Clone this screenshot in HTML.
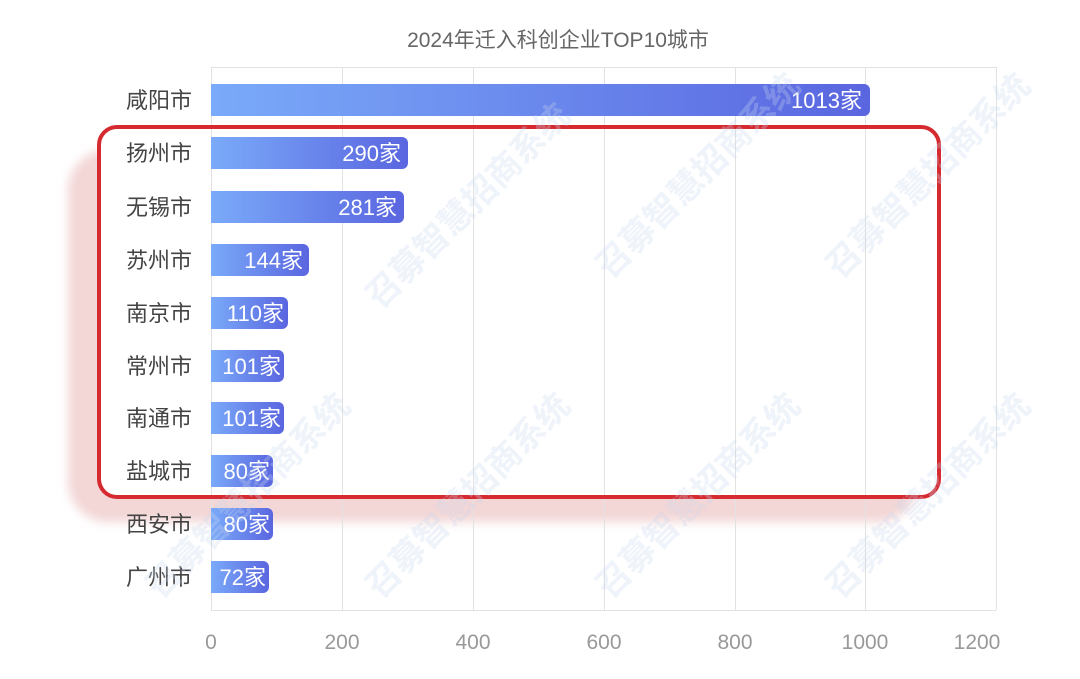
<!DOCTYPE html>
<html><head><meta charset="utf-8"><style>
body{margin:0;background:#fff;width:1080px;height:674px;overflow:hidden;font-family:"Liberation Sans","Noto Sans CJK SC",sans-serif;}
</style></head><body>
<svg width="1080" height="674" xmlns="http://www.w3.org/2000/svg" font-family="Liberation Sans, Noto Sans CJK SC, sans-serif">
<defs>
<linearGradient id="g" x1="0" x2="1" y1="0" y2="0"><stop offset="0" stop-color="#7aaaf9"/><stop offset="1" stop-color="#5a66e0"/></linearGradient>
<filter id="bl"><feGaussianBlur stdDeviation="5"/></filter>
</defs>
<rect x="68" y="150" width="850" height="372" rx="40" fill="#f3d6d6" filter="url(#bl)"/>
<rect x="101" y="129" width="836" height="366" rx="16" fill="#fff"/>
<text x="558" y="47" font-size="21" fill="#666" text-anchor="middle">2024年迁入科创企业TOP10城市</text>
<g stroke="#e2e2e2" stroke-width="1">
<line x1="211.5" y1="67" x2="211.5" y2="610"/><line x1="342.5" y1="67" x2="342.5" y2="610"/><line x1="473.5" y1="67" x2="473.5" y2="610"/><line x1="604.5" y1="67" x2="604.5" y2="610"/><line x1="735.5" y1="67" x2="735.5" y2="610"/><line x1="865.5" y1="67" x2="865.5" y2="610"/><line x1="996.5" y1="67" x2="996.5" y2="610"/>
<line x1="211" y1="67.5" x2="996" y2="67.5"/><line x1="211" y1="610.5" x2="996" y2="610.5"/>
</g>
<g font-size="21" fill="#999" text-anchor="middle">
<text x="211" y="649">0</text><text x="342" y="649">200</text><text x="473" y="649">400</text><text x="604" y="649">600</text><text x="735" y="649">800</text><text x="865" y="649">1000</text><text x="977" y="649">1200</text>
</g>
<g font-size="22" fill="#444" text-anchor="end">
<text x="192" y="108">咸阳市</text><text x="192" y="161">扬州市</text><text x="192" y="215">无锡市</text><text x="192" y="268">苏州市</text><text x="192" y="321">南京市</text><text x="192" y="374">常州市</text><text x="192" y="426">南通市</text><text x="192" y="479">盐城市</text><text x="192" y="532">西安市</text><text x="192" y="585">广州市</text>
</g>
<g fill="url(#g)">
<path d="M211 84h653a6 6 0 0 1 6 6v20a6 6 0 0 1-6 6h-653z"/>
<path d="M211 137h191a6 6 0 0 1 6 6v20a6 6 0 0 1-6 6h-191z"/>
<path d="M211 191h187a6 6 0 0 1 6 6v20a6 6 0 0 1-6 6h-187z"/>
<path d="M211 244h92a6 6 0 0 1 6 6v20a6 6 0 0 1-6 6h-92z"/>
<path d="M211 297h71a6 6 0 0 1 6 6v20a6 6 0 0 1-6 6h-71z"/>
<path d="M211 350h67a6 6 0 0 1 6 6v20a6 6 0 0 1-6 6h-67z"/>
<path d="M211 402h67a6 6 0 0 1 6 6v20a6 6 0 0 1-6 6h-67z"/>
<path d="M211 455h56a6 6 0 0 1 6 6v20a6 6 0 0 1-6 6h-56z"/>
<path d="M211 508h56a6 6 0 0 1 6 6v20a6 6 0 0 1-6 6h-56z"/>
<path d="M211 561h52a6 6 0 0 1 6 6v20a6 6 0 0 1-6 6h-52z"/>
</g>
<g font-size="22" fill="#fff" text-anchor="end">
<text x="862" y="108">1013家</text><text x="401" y="161">290家</text><text x="397" y="215">281家</text><text x="303" y="268">144家</text><text x="284" y="321">110家</text><text x="281" y="374">101家</text><text x="281" y="426">101家</text><text x="270" y="479">80家</text><text x="270" y="532">80家</text><text x="266" y="585">72家</text>
</g>
<rect x="99" y="127" width="840" height="370" rx="18" fill="none" stroke="#d42a30" stroke-width="4"/>
<g font-size="34" fill="#c9d6ee" opacity="0.3" font-weight="bold">
<text transform="translate(160,600) rotate(-45)">召募智慧招商系统</text>
<text transform="translate(380,600) rotate(-45)">召募智慧招商系统</text>
<text transform="translate(610,600) rotate(-45)">召募智慧招商系统</text>
<text transform="translate(840,600) rotate(-45)">召募智慧招商系统</text>
<text transform="translate(380,310) rotate(-45)">召募智慧招商系统</text>
<text transform="translate(610,280) rotate(-45)">召募智慧招商系统</text>
<text transform="translate(840,280) rotate(-45)">召募智慧招商系统</text>
</g>
</svg>
</body></html>
